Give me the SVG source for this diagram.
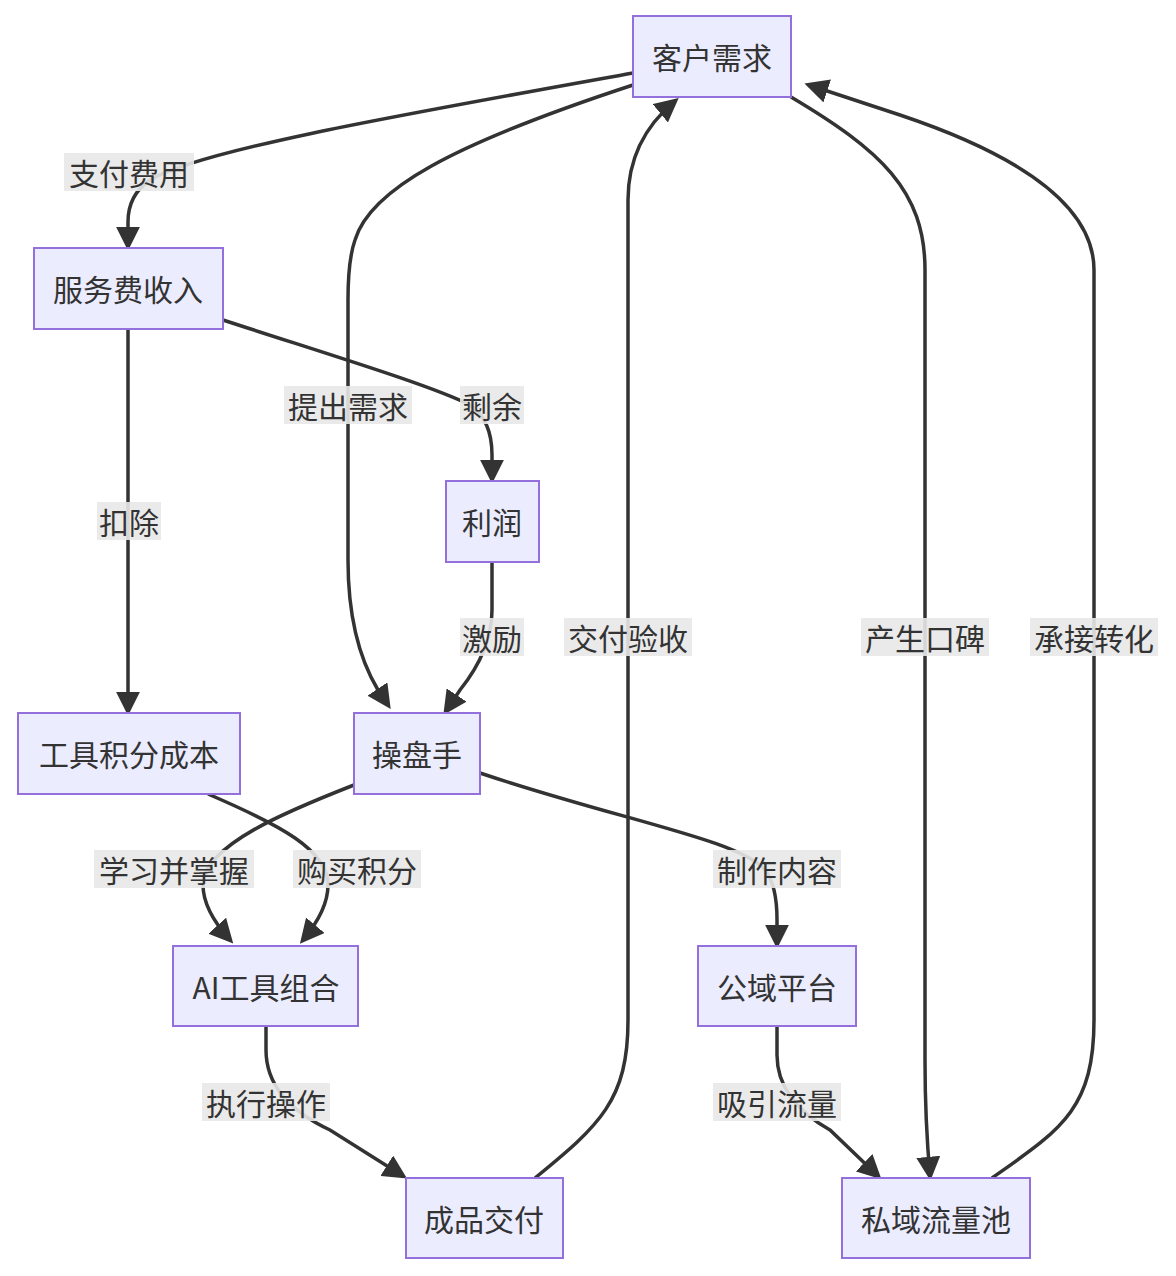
<svg xmlns="http://www.w3.org/2000/svg" width="1176" height="1276" viewBox="0 0 1176 1276">
<defs>
<marker id="a" viewBox="0 0 10 10" refX="9" refY="5" markerWidth="8" markerHeight="8" markerUnits="userSpaceOnUse" orient="auto"><path d="M0,0L10,5L0,10z" fill="#333"/></marker>
<marker id="ah" viewBox="0 0 10 10" refX="8" refY="5" markerWidth="24" markerHeight="24" markerUnits="userSpaceOnUse" orient="auto"><path d="M0,0L10,5L0,10z" fill="#333"/></marker>
<style>
.n rect{fill:#ECECFF;stroke:#9370DB;stroke-width:2}
text{font-family:"Noto Sans CJK SC","Liberation Sans",sans-serif;font-size:30px;fill:#333;text-anchor:middle;dominant-baseline:central}
.e path{fill:none;stroke:#333;stroke-width:3.5;marker-end:url(#ah)}
.l rect{fill:#e8e8e8;opacity:0.9}
</style>
</defs>
<rect width="1176" height="1276" fill="#fff"/>
<g class="e" id="edges">
<path d="M633,73 C400,115 200,150 150,180 Q128,195 128,222 L128,246"/>
<path d="M128,329 L128,711"/>
<path d="M223,320 C330,355 430,385 470,405 Q492,420 492,455 L492,479"/>
<path d="M492,562 L492,610 Q492,650 460,690 L446,711"/>
<path d="M633,85 C450,145 370,190 355,240 Q348,260 348,300 L348,560 Q348,640 378,690 L388,705"/>
<path d="M208,794 C280,825 328,850 328,885 Q328,910 303,940"/>
<path d="M354,785 C290,810 203,845 203,885 Q203,910 230,940"/>
<path d="M480,773 C620,820 740,840 765,870 Q777,885 777,920 L777,944"/>
<path d="M266,1026 L266,1050 Q266,1100 330,1130 L403,1176"/>
<path d="M777,1026 L777,1055 Q777,1100 830,1130 L878,1176"/>
<path d="M535,1178 C600,1125 628,1100 628,1020 L628,200 Q628,140 675,101"/>
<path d="M791,97 C880,150 925,190 925,270 L925,1060 Q925,1120 930,1176"/>
<path d="M992,1178 C1060,1130 1094,1110 1094,1020 L1094,270 Q1094,180 900,115 L809,85"/>
</g>
<g class="l">
<rect x="64" y="153" width="130" height="38"/><text x="129" y="172">支付费用</text>
<rect x="97" y="502" width="64" height="38"/><text x="129" y="521">扣除</text>
<rect x="460" y="386" width="64" height="38"/><text x="492" y="405">剩余</text>
<rect x="460" y="618" width="64" height="38"/><text x="492" y="637">激励</text>
<rect x="284" y="386" width="128" height="38"/><text x="348" y="405">提出需求</text>
<rect x="564" y="618" width="128" height="38"/><text x="628" y="637">交付验收</text>
<rect x="861" y="618" width="128" height="38"/><text x="925" y="637">产生口碑</text>
<rect x="1030" y="618" width="128" height="38"/><text x="1094" y="637">承接转化</text>
<rect x="94" y="850" width="160" height="38"/><text x="174" y="869">学习并掌握</text>
<rect x="293" y="850" width="128" height="38"/><text x="357" y="869">购买积分</text>
<rect x="713" y="850" width="128" height="38"/><text x="777" y="869">制作内容</text>
<rect x="202" y="1083" width="128" height="38"/><text x="266" y="1102">执行操作</text>
<rect x="713" y="1083" width="128" height="38"/><text x="777" y="1102">吸引流量</text>
</g>
<g class="n" id="n1"><rect x="633" y="16" width="158" height="81"/><text x="712" y="56">客户需求</text></g>
<g class="n" id="n2"><rect x="34" y="248" width="189" height="81"/><text x="128" y="288">服务费收入</text></g>
<g class="n" id="n3"><rect x="446" y="481" width="93" height="81"/><text x="492" y="521">利润</text></g>
<g class="n" id="n4"><rect x="18" y="713" width="222" height="81"/><text x="129" y="753">工具积分成本</text></g>
<g class="n" id="n5"><rect x="354" y="713" width="126" height="81"/><text x="417" y="753">操盘手</text></g>
<g class="n" id="n6"><rect x="173" y="946" width="185" height="80"/><text x="266" y="986">AI工具组合</text></g>
<g class="n" id="n7"><rect x="698" y="946" width="158" height="80"/><text x="777" y="986">公域平台</text></g>
<g class="n" id="n8"><rect x="406" y="1178" width="157" height="80"/><text x="484" y="1218">成品交付</text></g>
<g class="n" id="n9"><rect x="842" y="1178" width="188" height="80"/><text x="936" y="1218">私域流量池</text></g>
</svg>
